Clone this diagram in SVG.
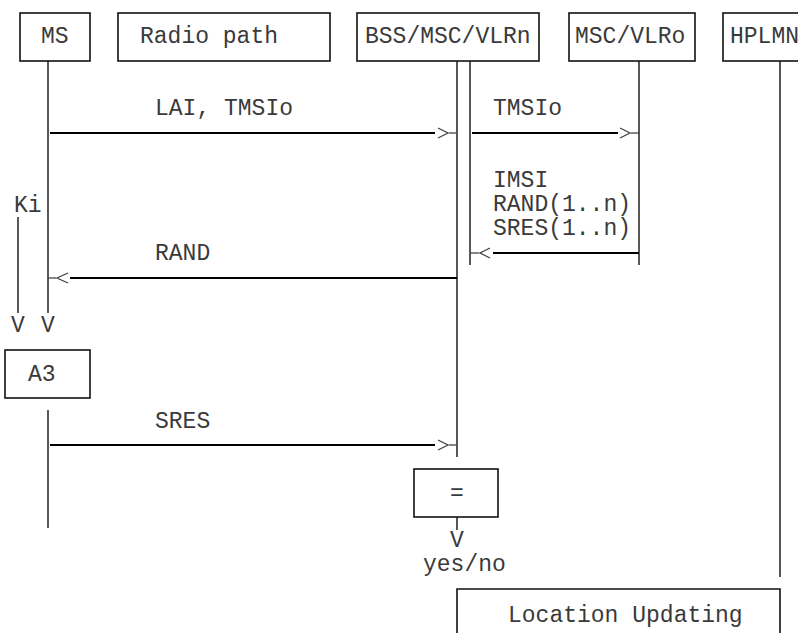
<svg xmlns="http://www.w3.org/2000/svg" width="798" height="633" viewBox="0 0 798 633">
<style>
text{font-family:"Liberation Mono","Courier New",monospace;font-size:23px;fill:#3a3a3a}
.box{fill:none;stroke:#111;stroke-width:1.6}
.life{stroke:#111;stroke-width:1.4;fill:none}
.msg{stroke:#000;stroke-width:2.2;fill:none}
.head{stroke:#444;stroke-width:1.3;fill:none}
</style>
<rect width="798" height="633" fill="#fff"/>
<g id="node-ms">
<rect class="box" x="20" y="13" width="70" height="48"/>
<text x="41" y="43">MS</text>
<line class="life" x1="48" y1="61" x2="48" y2="313"/>
<line class="life" x1="48" y1="410" x2="48" y2="528"/>
<text x="48" y="332" text-anchor="middle">V</text>
</g>
<g id="node-ki">
<text x="14" y="212">Ki</text>
<line class="life" x1="18" y1="217" x2="18" y2="313"/>
<text x="18" y="332" text-anchor="middle">V</text>
</g>
<g id="node-radio">
<rect class="box" x="118" y="13" width="212" height="48"/>
<text x="140" y="43">Radio path</text>
</g>
<g id="node-bss">
<rect class="box" x="357" y="13" width="182" height="48"/>
<text x="365" y="43">BSS/MSC/VLRn</text>
<line class="life" x1="457" y1="61" x2="457" y2="457"/>
<line class="life" x1="470" y1="61" x2="470" y2="265"/>
</g>
<g id="node-msco">
<rect class="box" x="569" y="13" width="126" height="48"/>
<text x="575" y="43">MSC/VLRo</text>
<line class="life" x1="639" y1="61" x2="639" y2="265"/>
</g>
<g id="node-hplmn">
<rect class="box" x="723" y="13" width="130" height="48"/>
<text x="730" y="43">HPLMN</text>
<line class="life" x1="780" y1="61" x2="780" y2="577"/>
</g>
<g id="node-a3">
<rect class="box" x="5" y="350" width="85" height="48"/>
<text x="28" y="381">A3</text>
</g>
<g id="node-eq">
<rect class="box" x="414" y="469" width="84" height="48"/>
<text x="457" y="500" text-anchor="middle">=</text>
<line class="life" x1="457" y1="517" x2="457" y2="530"/>
<text x="457" y="547" text-anchor="middle">V</text>
<text x="423" y="571">yes/no</text>
</g>
<g id="node-lu">
<path class="box" d="M457,633 V589 H780 V633"/>
<text x="508" y="622">Location Updating</text>
</g>
<g id="connectors">
<line class="msg" x1="50" y1="133" x2="435" y2="133"/>
<polyline class="head" points="438,128 448,133 438,138"/>
<line class="head" x1="449" y1="133" x2="457" y2="133"/>
<text x="155" y="115">LAI, TMSIo</text>
<line class="msg" x1="472" y1="133" x2="618" y2="133"/>
<polyline class="head" points="620,128 630,133 620,138"/>
<line class="head" x1="631" y1="133" x2="639" y2="133"/>
<text x="493" y="115">TMSIo</text>
<text x="493" y="187">IMSI</text>
<text x="493" y="211">RAND(1..n)</text>
<text x="493" y="235">SRES(1..n)</text>
<line class="msg" x1="493" y1="253" x2="639" y2="253"/>
<polyline class="head" points="490,248 480,253 490,258"/>
<line class="head" x1="470" y1="253" x2="479" y2="253"/>
<line class="msg" x1="70" y1="278" x2="457" y2="278"/>
<polyline class="head" points="68,273 57,278 68,283"/>
<line class="head" x1="48" y1="278" x2="56" y2="278"/>
<text x="155" y="260">RAND</text>
<line class="msg" x1="50" y1="445" x2="435" y2="445"/>
<polyline class="head" points="438,440 448,445 438,450"/>
<line class="head" x1="449" y1="445" x2="457" y2="445"/>
<text x="155" y="428">SRES</text>
</g>
</svg>
